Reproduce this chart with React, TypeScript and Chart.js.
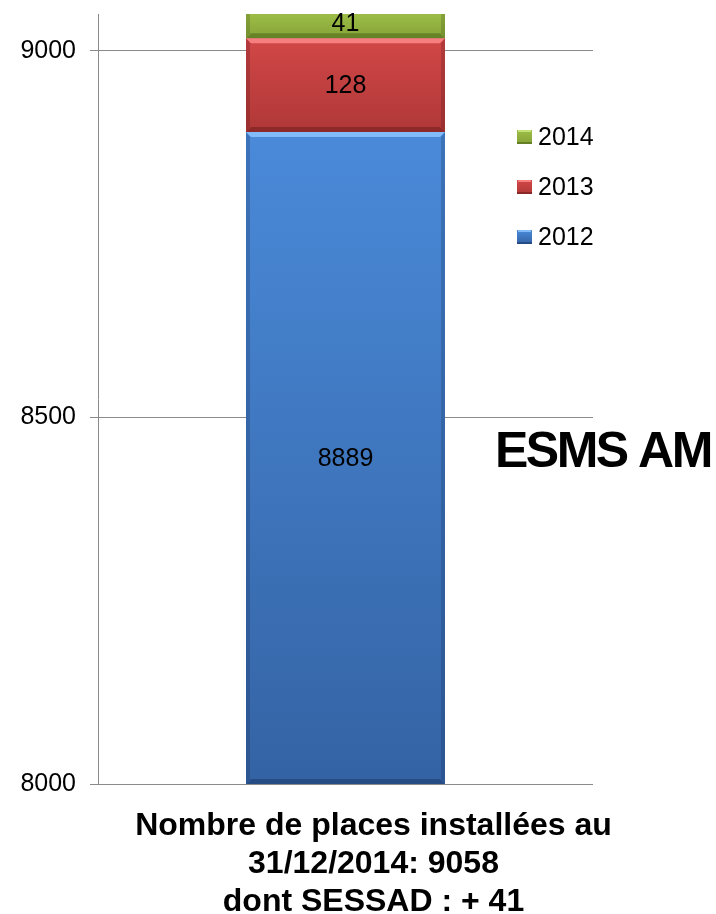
import React, { useEffect, useRef } from "react";
import { Chart, registerables } from "chart.js";

Chart.register(...registerables);

// ---- data ----
const categories = [["Nombre de places installées au", "31/12/2014: 9058", "dont SESSAD : + 41"]];
const seriesLabels = ["2012", "2013", "2014"];
const values2012 = [8889];
const values2013 = [128];
const values2014 = [41];
const yTickValues = [8000, 8500, 9000];
const yMin = 8000;
const yMax = 9050;
const sideTitle = "ESMS AM";

const seriesValues = [values2012, values2013, values2014];

const FONT = "'Liberation Sans', Arial, Helvetica, sans-serif";

const palette = [
  { top: "#4a8ad9", bottom: "#3463a4", mid: "#3f78c6", light: "rgba(140,195,255,0.85)", dark: "rgba(20,45,90,0.45)" },
  { top: "#d24747", bottom: "#b03838", mid: "#c24040", light: "rgba(255,140,140,0.8)", dark: "rgba(90,20,20,0.45)" },
  { top: "#9dbd47", bottom: "#84a337", mid: "#90b03e", light: "rgba(205,235,130,0.8)", dark: "rgba(60,80,15,0.45)" },
];

function segmentBounds(chart: any, dsIndex: number, dataIndex: number) {
  let base = 0;
  for (let k = 0; k < dsIndex; k++) base += seriesValues[k][dataIndex];
  const top = base + seriesValues[dsIndex][dataIndex];
  const ys = chart.scales.y;
  const area = chart.chartArea;
  const yTop = Math.max(ys.getPixelForValue(top), area.top);
  const yBottom = Math.min(ys.getPixelForValue(base), area.bottom);
  return { yTop, yBottom };
}

const bevelPlugin = {
  id: "bevel",
  afterDatasetsDraw(chart: any) {
    const ctx = chart.ctx;
    const area = chart.chartArea;
    ctx.save();
    ctx.beginPath();
    ctx.rect(area.left, area.top, area.right - area.left, area.bottom - area.top);
    ctx.clip();
    chart.data.datasets.forEach((ds: any, i: number) => {
      const meta = chart.getDatasetMeta(i);
      meta.data.forEach((el: any) => {
        const w = el.width;
        const left = el.x - w / 2;
        const right = el.x + w / 2;
        const top = Math.min(el.y, el.base);
        const bottom = Math.min(Math.max(el.y, el.base), area.bottom);
        const b = 5;
        const p = palette[i];
        ctx.fillStyle = p.light;
        ctx.beginPath();
        ctx.moveTo(left, top);
        ctx.lineTo(right, top);
        ctx.lineTo(right - b, top + b);
        ctx.lineTo(left + b, top + b);
        ctx.closePath();
        ctx.fill();
        ctx.fillStyle = p.dark;
        ctx.globalAlpha = 0.55;
        ctx.beginPath();
        ctx.moveTo(left, top);
        ctx.lineTo(left + b - 1, top + b);
        ctx.lineTo(left + b - 1, bottom - b);
        ctx.lineTo(left, bottom);
        ctx.closePath();
        ctx.fill();
        ctx.beginPath();
        ctx.moveTo(right, top);
        ctx.lineTo(right - b + 1, top + b);
        ctx.lineTo(right - b + 1, bottom - b);
        ctx.lineTo(right, bottom);
        ctx.closePath();
        ctx.fill();
        ctx.globalAlpha = 0.9;
        ctx.beginPath();
        ctx.moveTo(left, bottom);
        ctx.lineTo(left + b, bottom - b);
        ctx.lineTo(right - b, bottom - b);
        ctx.lineTo(right, bottom);
        ctx.closePath();
        ctx.fill();
        ctx.globalAlpha = 1;
      });
    });
    ctx.restore();
  },
};

const labelsPlugin = {
  id: "segLabels",
  afterDatasetsDraw(chart: any) {
    const ctx = chart.ctx;
    const area = chart.chartArea;
    ctx.save();
    ctx.font = `25px ${FONT}`;
    ctx.fillStyle = "#000";
    ctx.textAlign = "center";
    ctx.textBaseline = "middle";
    chart.data.datasets.forEach((ds: any, i: number) => {
      const meta = chart.getDatasetMeta(i);
      meta.data.forEach((el: any, j: number) => {
        const top = Math.min(el.y, el.base);
        const bottom = Math.min(Math.max(el.y, el.base), area.bottom);
        ctx.fillText(String(ds.data[j]), el.x, (top + bottom) / 2 + 1);
      });
    });
    ctx.restore();
  },
};

const legendPlugin = {
  id: "customLegend",
  afterDraw(chart: any) {
    const ctx = chart.ctx;
    const n = chart.data.datasets.length;
    const x0 = 517;
    const y0 = 137;
    const step = 50;
    ctx.save();
    ctx.font = `25px ${FONT}`;
    ctx.textAlign = "left";
    ctx.textBaseline = "middle";
    for (let r = 0; r < n; r++) {
      const i = n - 1 - r;
      const cy = y0 + r * step;
      const p = palette[i];
      const g = ctx.createLinearGradient(0, cy - 7, 0, cy + 7);
      g.addColorStop(0, p.top);
      g.addColorStop(1, p.bottom);
      ctx.fillStyle = g;
      ctx.fillRect(x0, cy - 7, 15, 14);
      ctx.fillStyle = p.light;
      ctx.fillRect(x0 + 1, cy - 7, 13, 2);
      ctx.fillStyle = p.dark;
      ctx.fillRect(x0, cy + 5, 15, 2);
      ctx.fillStyle = "#000";
      ctx.fillText(chart.data.datasets[i].label, x0 + 21, cy + 1);
    }
    ctx.restore();
  },
};

const sideTitlePlugin = {
  id: "sideTitle",
  afterDraw(chart: any) {
    const ctx = chart.ctx;
    ctx.save();
    ctx.font = `bold 50px ${FONT}`;
    (ctx as any).letterSpacing = "-2.5px";
    ctx.fillStyle = "#000";
    ctx.textAlign = "left";
    ctx.textBaseline = "alphabetic";
    ctx.fillText(sideTitle, 495, 467);
    ctx.restore();
  },
};

export default function App() {
  const canvasRef = useRef<HTMLCanvasElement | null>(null);

  useEffect(() => {
    if (!canvasRef.current) return;
    const datasets = seriesLabels.map((label, i) => ({
      label,
      data: seriesValues[i],
      clip: 0,
      borderWidth: 0,
      barPercentage: 0.402,
      categoryPercentage: 1,
      backgroundColor: (c: any) => {
        const chart = c.chart;
        const p = palette[i];
        if (!chart.chartArea || !chart.scales.y || c.dataIndex == null) return p.mid;
        const { yTop, yBottom } = segmentBounds(chart, i, c.dataIndex);
        if (!(yBottom > yTop)) return p.mid;
        const g = chart.ctx.createLinearGradient(0, yTop, 0, yBottom);
        g.addColorStop(0, p.top);
        g.addColorStop(1, p.bottom);
        return g;
      },
    }));

    const chart = new Chart(canvasRef.current, {
      type: "bar",
      data: { labels: categories as any, datasets },
      options: {
        animation: false,
        responsive: false,
        devicePixelRatio: 1,
        layout: { padding: { top: 14, right: 123, left: 0, bottom: 0 } },
        plugins: {
          legend: { display: false },
          tooltip: { enabled: false },
        },
        scales: {
          x: {
            stacked: true,
            grid: { display: false },
            border: { display: false },
            ticks: {
              color: "#000",
              font: { family: FONT, size: 32, weight: "bold", lineHeight: 38 / 32 },
              padding: 15,
              labelOffset: 28,
              maxRotation: 0,
              minRotation: 0,
              autoSkip: false,
            },
            afterFit: (s: any) => {
              s.height = 130;
              s.paddingLeft = 0;
              s.paddingRight = 0;
            },
          },
          y: {
            stacked: true,
            min: yMin,
            max: yMax,
            afterBuildTicks: (s: any) => {
              s.ticks = yTickValues.map((v) => ({ value: v }));
            },
            grid: { color: "#8a8a8a", lineWidth: 1, tickLength: 8, drawTicks: true },
            border: { color: "#8a8a8a", width: 1 },
            ticks: {
              color: "#000",
              font: { family: FONT, size: 25 },
              padding: 14,
              callback: (v: any) => String(v),
            },
            afterFit: (s: any) => {
              s.width = 98;
              s.paddingTop = 0;
              s.paddingBottom = 0;
            },
          },
        },
      },
      plugins: [bevelPlugin, labelsPlugin, legendPlugin, sideTitlePlugin],
    } as any);
    return () => chart.destroy();
  }, []);

  return (
    <div style={{ position: "absolute", left: 0, top: 0, width: 716, height: 914, background: "#fff" }}>
      <canvas ref={canvasRef} width={716} height={914} style={{ display: "block" }} />
    </div>
  );
}
